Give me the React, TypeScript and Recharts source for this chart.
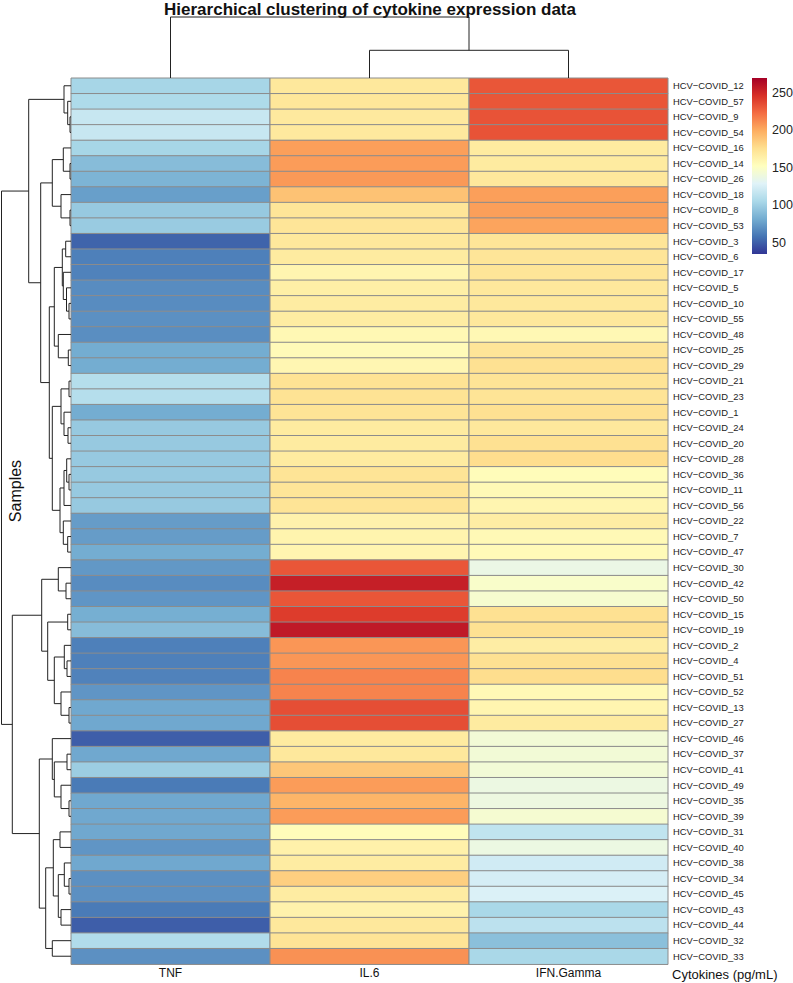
import React from "react";
import { BarChart, Bar, XAxis, YAxis, Cell } from "recharts";

// rows in heatmap order (top to bottom)
const samples = [
  "HCV−COVID_12", "HCV−COVID_57", "HCV−COVID_9", "HCV−COVID_54", "HCV−COVID_16", "HCV−COVID_14",
  "HCV−COVID_26", "HCV−COVID_18", "HCV−COVID_8", "HCV−COVID_53", "HCV−COVID_3", "HCV−COVID_6",
  "HCV−COVID_17", "HCV−COVID_5", "HCV−COVID_10", "HCV−COVID_55", "HCV−COVID_48", "HCV−COVID_25",
  "HCV−COVID_29", "HCV−COVID_21", "HCV−COVID_23", "HCV−COVID_1", "HCV−COVID_24", "HCV−COVID_20",
  "HCV−COVID_28", "HCV−COVID_36", "HCV−COVID_11", "HCV−COVID_56", "HCV−COVID_22", "HCV−COVID_7",
  "HCV−COVID_47", "HCV−COVID_30", "HCV−COVID_42", "HCV−COVID_50", "HCV−COVID_15", "HCV−COVID_19",
  "HCV−COVID_2", "HCV−COVID_4", "HCV−COVID_51", "HCV−COVID_52", "HCV−COVID_13", "HCV−COVID_27",
  "HCV−COVID_46", "HCV−COVID_37", "HCV−COVID_41", "HCV−COVID_49", "HCV−COVID_35", "HCV−COVID_39",
  "HCV−COVID_31", "HCV−COVID_40", "HCV−COVID_38", "HCV−COVID_34", "HCV−COVID_45", "HCV−COVID_43",
  "HCV−COVID_44", "HCV−COVID_32", "HCV−COVID_33",
];

const cytokines = ["TNF", "IL.6", "IFN.Gamma"];

const tnf = [
  104, 107, 118, 118, 104, 90, 86, 76, 97, 98,
  52, 63, 64, 68, 68, 70, 69, 82, 82, 110,
  110, 82, 97, 97, 97, 97, 97, 97, 75, 75,
  82, 73, 68, 72, 83, 90, 63, 63, 64, 72,
  80, 80, 50, 80, 99, 61, 80, 80, 80, 72,
  80, 70, 70, 61, 50, 108, 70,
];

const il6 = [
  170, 171, 169, 169, 205, 206, 207, 190, 172, 172,
  170, 168, 160, 165, 167, 167, 158, 156, 159, 174,
  174, 173, 168, 168, 168, 173, 172, 173, 162, 161,
  160, 232, 255, 232, 242, 258, 208, 208, 215, 215,
  235, 235, 168, 170, 188, 206, 196, 206, 155, 163,
  167, 184, 167, 162, 170, 173, 210,
];

const ifng = [
  232, 232, 233, 233, 168, 168, 170, 205, 205, 203,
  172, 172, 172, 170, 170, 170, 158, 172, 175, 173,
  173, 175, 170, 175, 177, 155, 157, 160, 166, 157,
  156, 137, 148, 146, 175, 175, 166, 175, 177, 157,
  160, 168, 143, 143, 143, 138, 139, 145, 115, 138,
  122, 124, 127, 105, 113, 92, 105,
];

const legendTicks = [50, 100, 150, 200, 250];
const valueMin = 35;
const valueMax = 270;
const palette = [
  "#313695", "#4575B4", "#74ADD1", "#ABD9E9", "#E0F3F8", "#FFFFBF",
  "#FEE090", "#FDAE61", "#F46D43", "#D73027", "#A50026",
];

// hclust trees: [height, left, right], leaves are row / column indices
const rowTree: any = [69.5,
  [42.3,
    [7, 0, [3.3, 1, [1, 2, 3]]],
    [30.3,
      [18.7, [7.7, 4, [1, 5, 6]], [10, 7, [1, 8, 9]]],
      [21.7,
        [16.7,
          [8.7, [5.3, 10, 11], [7.7, 12, [4.5, 13, [2, 14, 15]]]],
          [12.7, 16, [2.7, 17, 18]]],
        [18.7,
          [10, [2, 19, 20], [7, 21, [3, 22, 23]]],
          [11, [7, [4.3, 24, [2, 25, 26]], 27], [7.7, 28, [3.3, 29, 30]]]]]]],
  [58.7,
    [29.3,
      [12.7, 31, [5, 32, 33]],
      [23.3, [3.3, 34, 35], [16.7, [6.7, 36, [4, 37, 38]], [10, 39, [2, 40, 41]]]]],
    [31.7,
      [18.7, 42, [16.7, [4, 43, 44], [10, 45, [2, 46, 47]]]],
      [25.3,
        [17.7, [11, 48, 49], [12.7, [6.7, 50, [2, 51, 52]], [10, 53, 54]]],
        [18.7, 55, 56]]]]];
const colTree: any = [61, 0, [27.7, 1, 2]];

const W = 793;
const H = 983;
const M = { top: 78, right: 25, bottom: 0, left: 71 };
const Y_AXIS_W = 100;
const X_AXIS_H = 19;
const plotL = M.left;
const plotT = M.top;
const plotW = W - M.left - M.right - Y_AXIS_W;
const plotH = H - M.top - M.bottom - X_AXIS_H;

function hexToRgb(h: string) {
  const n = parseInt(h.slice(1), 16);
  return [(n >> 16) & 255, (n >> 8) & 255, n & 255];
}

function colorFor(v: number) {
  let t = (v - valueMin) / (valueMax - valueMin);
  t = Math.max(0, Math.min(1, t)) * (palette.length - 1);
  const i = Math.min(Math.floor(t), palette.length - 2);
  const f = t - i;
  const a = hexToRgb(palette[i]);
  const b = hexToRgb(palette[i + 1]);
  const c = a.map((x, k) => Math.round(x + (b[k] - x) * f));
  return `rgb(${c[0]},${c[1]},${c[2]})`;
}

const columns = [tnf, il6, ifng];
const data = samples.map((name) => ({ name, c0: 1, c1: 1, c2: 1 }));

// walk a tree, returning segments [h1,p1,h2,p2]; pos(leaf) gives leaf position along the leaf axis
function dendroSegments(tree: any, pos: (i: number) => number) {
  const segs: number[][] = [];
  const walk = (node: any): { p: number; h: number } => {
    if (typeof node === "number") return { p: pos(node), h: 0 };
    const [h, l, r] = node;
    const a = walk(l);
    const b = walk(r);
    segs.push([h, a.p, h, b.p]);
    segs.push([h, a.p, a.h, a.p]);
    segs.push([h, b.p, b.h, b.p]);
    return { p: (a.p + b.p) / 2, h };
  };
  walk(tree);
  return segs;
}

function Overlay() {
  const band = plotH / samples.length;
  const colW = plotW / cytokines.length;
  const rowSegs = dendroSegments(rowTree, (i) => plotT + (i + 0.5) * band);
  const colSegs = dendroSegments(colTree, (j) => plotL + (j + 0.5) * colW);
  const rowX = (h: number) => plotL - h; // 1 unit = 1px
  const colY = (h: number) => plotT - h;
  const cbX = 752, cbW = 15, cbT = plotT, cbH = 176;
  const cbY = (v: number) => cbT + ((valueMax - v) / (valueMax - valueMin)) * cbH;
  return (
    <svg width={W} height={H} style={{ position: "absolute", left: 0, top: 0, pointerEvents: "none" }}>
      <defs>
        <linearGradient id="cb" x1="0" y1="1" x2="0" y2="0">
          {palette.map((c, i) => (
            <stop key={i} offset={i / (palette.length - 1)} stopColor={c} />
          ))}
        </linearGradient>
      </defs>
      <text x={370} y={15} textAnchor="middle" fontSize={17} fontWeight="bold" fill="#111">
        Hierarchical clustering of cytokine expression data
      </text>
      <g stroke="#222" strokeWidth={1} fill="none">
        {rowSegs.map((s, i) => (
          <line key={"r" + i} x1={rowX(s[0])} y1={s[1]} x2={rowX(s[2])} y2={s[3]} />
        ))}
        {colSegs.map((s, i) => (
          <line key={"c" + i} x1={s[1]} y1={colY(s[0])} x2={s[3]} y2={colY(s[2])} />
        ))}
      </g>
      <rect x={cbX} y={cbT} width={cbW} height={cbH} fill="url(#cb)" />
      {legendTicks.map((t) => (
        <text key={t} x={cbX + cbW + 5} y={cbY(t)} dominantBaseline="central" fontSize={12.5} fill="#222">
          {t}
        </text>
      ))}
      <text
        transform="translate(15,491) rotate(-90)"
        textAnchor="middle"
        dominantBaseline="central"
        fontSize={16}
        fill="#111"
      >
        Samples
      </text>
      <text x={672} y={974} dominantBaseline="central" fontSize={13} fill="#111">
        Cytokines (pg/mL)
      </text>
    </svg>
  );
}

export default function App() {
  return (
    <div
      style={{
        position: "absolute",
        left: 0,
        top: 0,
        width: W,
        height: H,
        background: "#fff",
        fontFamily: "'Liberation Sans', Arial, sans-serif",
      }}
    >
      <BarChart
        width={W}
        height={H}
        data={data}
        layout="vertical"
        margin={M}
        barCategoryGap={0}
        barGap={0}
      >
        <XAxis
          type="number"
          domain={[0, 3]}
          ticks={[0.5, 1.5, 2.5]}
          tickFormatter={(v: number) => cytokines[Math.floor(v)]}
          height={X_AXIS_H}
          axisLine={false}
          tickLine={false}
          tickSize={4}
          tickMargin={0}
          tick={{ fontSize: 12, fill: "#111" }}
        />
        <YAxis
          type="category"
          dataKey="name"
          orientation="right"
          width={Y_AXIS_W}
          axisLine={false}
          tickLine={false}
          tickSize={3}
          tickMargin={2}
          interval={0}
          tick={{ fontSize: 9.4, fill: "#222" }}
        />
        {columns.map((vals, j) => (
          <Bar key={j} dataKey={"c" + j} stackId="h" isAnimationActive={false}>
            {vals.map((v, i) => (
              <Cell key={i} fill={colorFor(v)} stroke="#8c8c8c" strokeWidth={1} />
            ))}
          </Bar>
        ))}
      </BarChart>
      <Overlay />
    </div>
  );
}
